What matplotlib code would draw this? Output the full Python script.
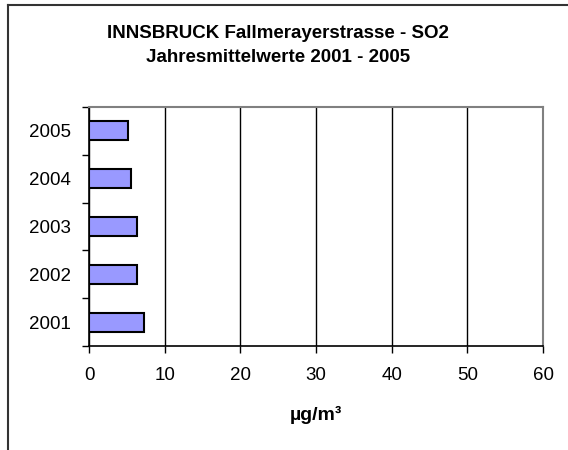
import matplotlib
matplotlib.use("Agg")
import matplotlib.pyplot as plt
from matplotlib.lines import Line2D
from matplotlib.ticker import FixedLocator

years = ["2001", "2002", "2003", "2004", "2005"]
values = [7.3, 6.3, 6.3, 5.5, 5.1]
xticks = [0, 10, 20, 30, 40, 50, 60]

plt.rcParams['font.family'] = ['Liberation Sans', 'DejaVu Sans']

fig = plt.figure(figsize=(5.68, 4.5), dpi=100)
ax = fig.add_axes([89/568, 1-346/450, (543-89)/568, (346-107)/450])

pos = list(range(len(years)))
ax.barh(pos, values, height=0.4, color='#9999FF', edgecolor='black', linewidth=1.5, zorder=3)

ax.set_xlim(0, 60)
ax.set_ylim(-0.5, len(years) - 0.5)
ax.set_xticks(xticks)
ax.set_xticklabels([str(t) for t in xticks], fontsize=13.5)
ax.xaxis.grid(True, color='black', linewidth=1)
ax.set_axisbelow(True)

ax.yaxis.set_major_locator(FixedLocator([p - 0.5 for p in pos] + [len(years) - 0.5]))
ax.yaxis.set_major_formatter(plt.NullFormatter())
ax.yaxis.set_minor_locator(FixedLocator(pos))
ax.set_yticklabels(years, minor=True, fontsize=13.5)
ax.tick_params(axis='y', which='major', length=5, width=1, direction='out')
ax.tick_params(axis='y', which='minor', length=0, pad=13)
ax.tick_params(axis='x', length=5, width=1, direction='out', pad=10)

for s in ['top', 'right']:
    ax.spines[s].set_color('#808080')
    ax.spines[s].set_linewidth(1.5)
for s in ['left', 'bottom']:
    ax.spines[s].set_color('black')
    ax.spines[s].set_linewidth(1.2)

fig.text(278/568, 1-33/450, "INNSBRUCK Fallmerayerstrasse - SO2", ha='center', va='center',
         fontsize=13.5, fontweight='bold')
fig.text(278/568, 1-58/450, "Jahresmittelwerte 2001 - 2005", ha='center', va='center',
         fontsize=13.5, fontweight='bold')
fig.text(316/568, 1-415/450, "µg/m³", ha='center', va='center', fontsize=14, fontweight='bold')

fig.add_artist(Line2D([8/568, 8/568], [0, 1-5/450], transform=fig.transFigure, color='#333333', linewidth=1.5))
fig.add_artist(Line2D([8/568, 1], [1-5/450, 1-5/450], transform=fig.transFigure, color='#333333', linewidth=1.5))

fig.savefig("out.png", dpi=100)
